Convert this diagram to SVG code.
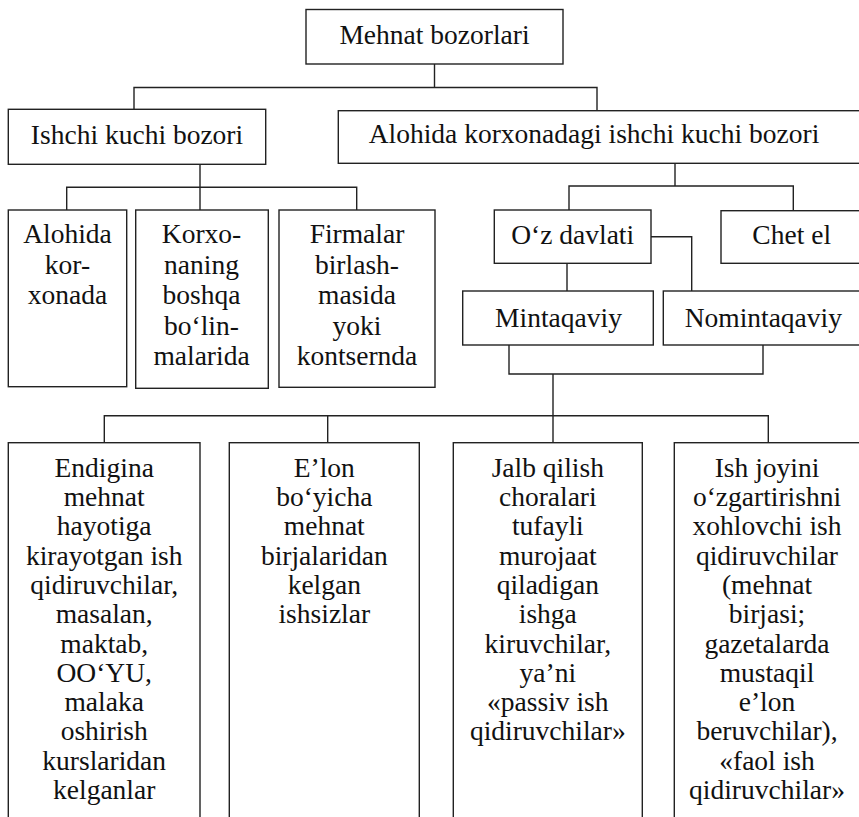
<svg xmlns="http://www.w3.org/2000/svg" width="859" height="817" viewBox="0 0 859 817">
  <style>
    .box { fill: #ffffff; stroke: #222222; stroke-width: 1.4; }
    .wire { fill: none; stroke: #222222; stroke-width: 1.4; }
    .lbl { font-size: 27.5px; fill: #111111; text-anchor: middle; }
  </style>
  <rect x="0" y="0" width="859" height="817" fill="#ffffff"/>

  <!-- connectors -->
  <g id="connectors">
    <path class="wire" d="M434.5 64V87.5 M134 109.3V87.5H597V110.7"/>
    <path class="wire" d="M200 164.3V210 M66.7 210V187.3H356.7V210"/>
    <path class="wire" d="M675 163.3V186 M569 210V186H793.3V210.7"/>
    <path class="wire" d="M567 263.3V291 M651 236.7H691.7V291"/>
    <path class="wire" d="M509 345V374H763V345 M553 374V442.7"/>
    <path class="wire" d="M104.3 442.7V415.7H768.3V442.7 M327.7 415.7V442.7"/>
  </g>

  <g class="lbl" font-family="'Liberation Serif', Tinos, 'Times New Roman', 'DejaVu Serif', serif">
  <!-- level 0 -->
  <g id="n-mehnat">
    <rect class="box" x="306" y="9.5" width="257" height="54.5"/>
    <text x="434.5" y="43.5">Mehnat bozorlari</text>
  </g>

  <!-- level 1 -->
  <g id="n-ishchi">
    <rect class="box" x="8.3" y="109.3" width="257.4" height="55"/>
    <text x="137" y="144">Ishchi kuchi bozori</text>
  </g>
  <g id="n-alohida-korxona">
    <rect class="box" x="338.3" y="110.7" width="540" height="52.6"/>
    <text x="594" y="143">Alohida korxonadagi ishchi kuchi bozori</text>
  </g>

  <!-- level 2, left branch -->
  <g id="n-alohida">
    <rect class="box" x="8.3" y="210" width="118.4" height="176.7"/>
    <text x="67.5" y="243.3">Alohida</text>
    <text x="67.5" y="273.7">kor-</text>
    <text x="67.5" y="304.1">xonada</text>
  </g>
  <g id="n-korxona-bolinma">
    <rect class="box" x="135.7" y="210" width="132.6" height="178.3"/>
    <text x="201.5" y="243.3">Korxo-</text>
    <text x="201.5" y="273.7">naning</text>
    <text x="201.5" y="304.1">boshqa</text>
    <text x="201.5" y="334.5">bo‘lin-</text>
    <text x="201.5" y="364.9">malarida</text>
  </g>
  <g id="n-firmalar">
    <rect class="box" x="279" y="210" width="156" height="177.3"/>
    <text x="357" y="243.3">Firmalar</text>
    <text x="357" y="273.7">birlash-</text>
    <text x="357" y="304.1">masida</text>
    <text x="357" y="334.5">yoki</text>
    <text x="357" y="364.9">kontsernda</text>
  </g>

  <!-- level 2, right branch -->
  <g id="n-oz-davlati">
    <rect class="box" x="494.3" y="210" width="156.7" height="53.3"/>
    <text x="572.7" y="243.5">O‘z davlati</text>
  </g>
  <g id="n-chet-el">
    <rect class="box" x="721" y="210.7" width="160" height="52.6"/>
    <text x="791.7" y="243.5">Chet el</text>
  </g>
  <g id="n-mintaqaviy">
    <rect class="box" x="462.7" y="291" width="190.6" height="54"/>
    <text x="558.5" y="326.5">Mintaqaviy</text>
  </g>
  <g id="n-nomintaqaviy">
    <rect class="box" x="663.3" y="291" width="220" height="54"/>
    <text x="763.3" y="326.5">Nomintaqaviy</text>
  </g>

  <!-- level 3 -->
  <g id="n-endigina">
    <rect class="box" x="8.3" y="442.7" width="191.7" height="400"/>
    <text x="104.2" y="476.7">Endigina</text>
    <text x="104.2" y="506">mehnat</text>
    <text x="104.2" y="535.3">hayotiga</text>
    <text x="104.2" y="564.6">kirayotgan ish</text>
    <text x="104.2" y="593.9">qidiruvchilar,</text>
    <text x="104.2" y="623.2">masalan,</text>
    <text x="104.2" y="652.5">maktab,</text>
    <text x="104.2" y="681.8">OO‘YU,</text>
    <text x="104.2" y="711.1">malaka</text>
    <text x="104.2" y="740.4">oshirish</text>
    <text x="104.2" y="769.7">kurslaridan</text>
    <text x="104.2" y="799">kelganlar</text>
  </g>
  <g id="n-elon">
    <rect class="box" x="229.3" y="442.7" width="190" height="400"/>
    <text x="324.3" y="476.7">E’lon</text>
    <text x="324.3" y="506">bo‘yicha</text>
    <text x="324.3" y="535.3">mehnat</text>
    <text x="324.3" y="564.6">birjalaridan</text>
    <text x="324.3" y="593.9">kelgan</text>
    <text x="324.3" y="623.2">ishsizlar</text>
  </g>
  <g id="n-jalb">
    <rect class="box" x="453.3" y="442.7" width="189" height="400"/>
    <text x="547.8" y="476.7">Jalb qilish</text>
    <text x="547.8" y="506">choralari</text>
    <text x="547.8" y="535.3">tufayli</text>
    <text x="547.8" y="564.6">murojaat</text>
    <text x="547.8" y="593.9">qiladigan</text>
    <text x="547.8" y="623.2">ishga</text>
    <text x="547.8" y="652.5">kiruvchilar,</text>
    <text x="547.8" y="681.8">ya’ni</text>
    <text x="547.8" y="711.1">«passiv ish</text>
    <text x="547.8" y="740.4">qidiruvchilar»</text>
  </g>
  <g id="n-ish-joyini">
    <rect class="box" x="674.3" y="442.7" width="210" height="400"/>
    <text x="767" y="476.7">Ish joyini</text>
    <text x="767" y="506">o‘zgartirishni</text>
    <text x="767" y="535.3">xohlovchi ish</text>
    <text x="767" y="564.6">qidiruvchilar</text>
    <text x="767" y="593.9">(mehnat</text>
    <text x="767" y="623.2">birjasi;</text>
    <text x="767" y="652.5">gazetalarda</text>
    <text x="767" y="681.8">mustaqil</text>
    <text x="767" y="711.1">e’lon</text>
    <text x="767" y="740.4">beruvchilar),</text>
    <text x="767" y="769.7">«faol ish</text>
    <text x="767" y="799">qidiruvchilar»</text>
  </g>
  </g>
</svg>
